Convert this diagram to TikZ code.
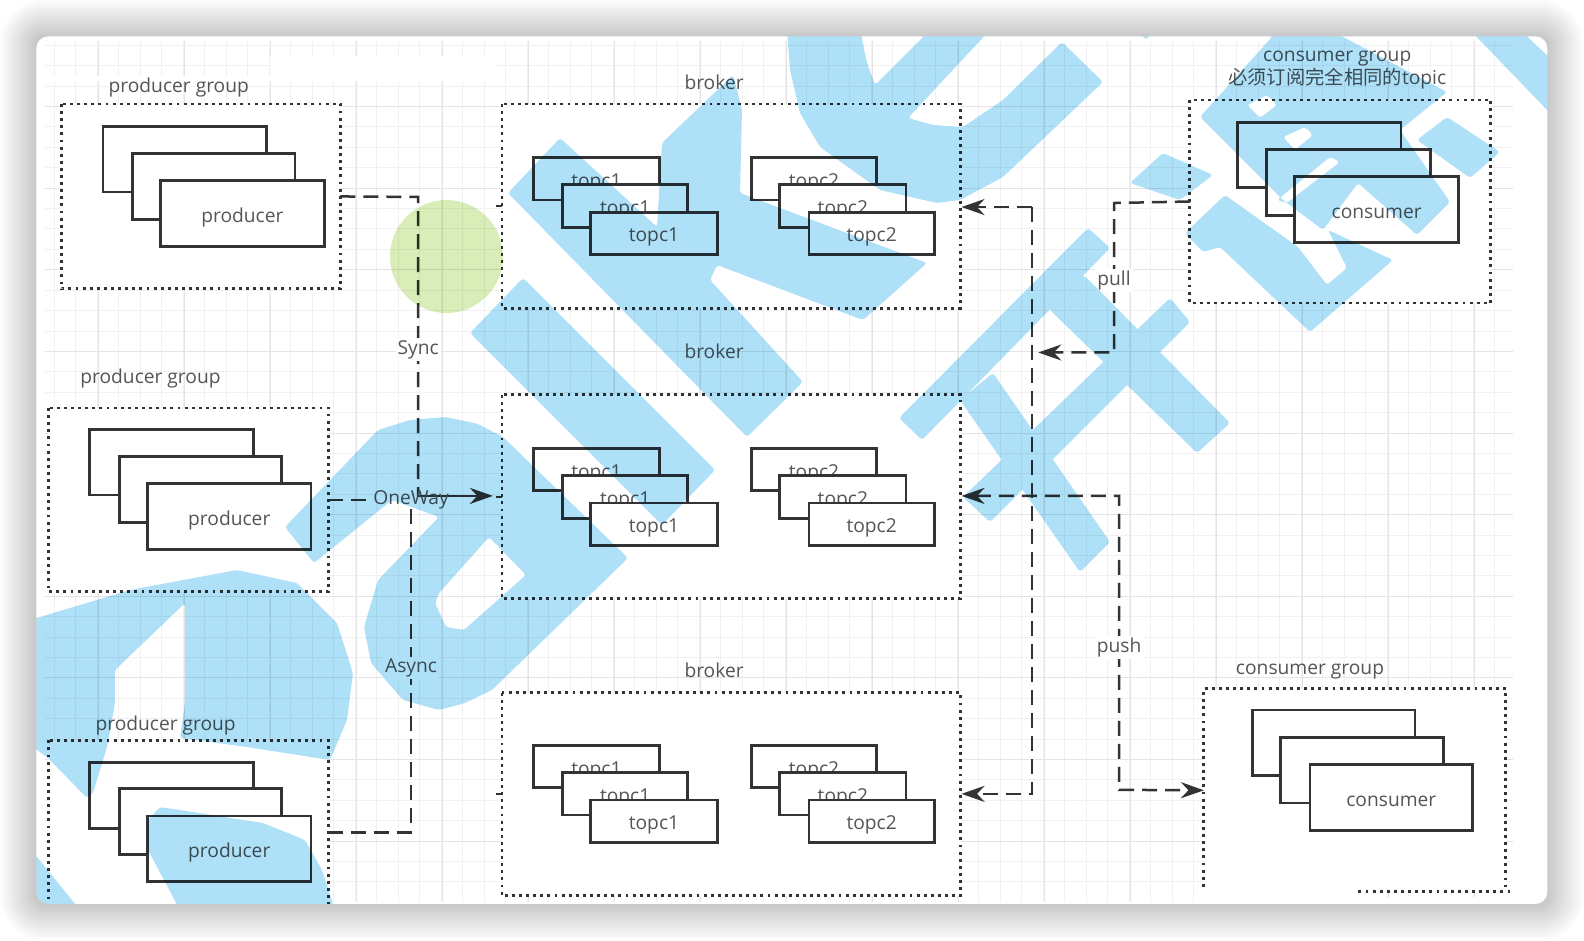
\documentclass[tikz,border=0pt]{standalone}
\usepackage{fontspec}
\setmainfont{Open Sans}
\newfontfamily\cjkfont{Noto Sans CJK SC}
\usetikzlibrary{arrows.meta,calc}
\definecolor{wm}{RGB}{174,224,248}
\definecolor{gr}{RGB}{217,237,184}
\definecolor{ink}{RGB}{51,51,51}
\definecolor{txt}{RGB}{85,85,85}
\definecolor{gminc}{RGB}{241,241,241}
\definecolor{gmajc}{RGB}{228,228,228}
\tikzset{
  lbl/.style={font=\fontsize{9.6}{11}\selectfont,text=txt,inner sep=1pt},
  stackbox/.style={draw=ink,line width=1.4pt,fill=white,anchor=north west,inner sep=0pt,outer sep=0pt,
    font=\fontsize{9.6}{11}\selectfont,text=txt},
  groupbox/.style={fill=white,anchor=north west,inner sep=0pt,outer sep=0pt},
  dotline/.style={draw=ink,line width=1.45pt,dash pattern=on 1.45pt off 2.1pt},
  conn/.style={draw=ink,line width=1.25pt,dash pattern=on 7.5pt off 4pt},
  tip/.style={-{Stealth[length=11.5pt,width=8pt]}},
  both/.style={{Stealth[length=11.5pt,width=8pt]}-{Stealth[length=11.5pt,width=8pt]}},
  gmin/.style={draw=gminc,line width=.5pt},
  gmaj/.style={draw=gmajc,line width=.5pt},
  truepx/.style={x=0.5pt,y=-0.5pt},
}
% name, x1, y1, x2, y2, text
\newcommand\stk[6]{\node[stackbox,minimum width={((#4)-(#2))*0.505pt},minimum height={((#5)-(#3))*0.505pt}] (#1) at (#2,#3) {\raisebox{0pt}[8.6pt][0pt]{#6}};}
\newcommand\gbox[5]{\node[groupbox,minimum width={((#4)-(#2))*0.505pt},minimum height={((#5)-(#3))*0.505pt}] (#1) at (#2,#3) {};}
\newcommand\gridpart[4]{%
  \begin{scope}
  \clip (#1,#2) rectangle (#3,#4);
  \foreach \k in {0,...,72} {\draw[gmin] ({11+21.5*\k},0) -- ({11+21.5*\k},940);}
  \foreach \k in {0,...,46} {\draw[gmin] (0,{25+20.4*\k}) -- (1584,{25+20.4*\k});}
  \foreach \k in {0,...,18} {\draw[gmaj] ({12+86*\k},0) -- ({12+86*\k},940);}
  \foreach \k in {0,...,11} {\draw[gmaj] (0,{25+81.6*\k}) -- (1584,{25+81.6*\k});}
  \end{scope}}
\begin{document}
\begin{tikzpicture}[x=0.505pt,y=-0.505pt]
\useasboundingbox (0,0) rectangle (1568.3,930.7);
\fill[white] (0,0) rectangle (1568.3,930.7);
% soft shadow of the card
\foreach \r in {36,34,...,2} {
  \fill[black,opacity=.0105,rounded corners=\r*0.5pt+4pt] ({36-\r},{36-\r}) rectangle ({1532+\r},{895+\r});
}
\fill[white,rounded corners=6pt] (36,36) rectangle (1532,895);
\begin{scope}
\clip[rounded corners=6pt] (36,36) rectangle (1532,895);
% grid
\begin{scope}[truepx]
\gridpart{495}{42}{1513}{889}
\gridpart{45}{82}{495}{889}
\gridpart{45}{42}{270}{76}
\gridpart{270}{42}{495}{56}
\gridpart{45}{889}{1513}{901}
\end{scope}
% groups
\gbox{pga}{61}{103}{337}{286}
\gbox{pgb}{48}{404}{325}{586}
\gbox{pgc}{48}{733}{325}{915}
\gbox{bra}{497}{103}{951}{305}
\gbox{brb}{497}{391}{951}{593}
\gbox{brc}{497}{686}{951}{887}
\gbox{cga}{1178}{99}{1476}{300}
\gbox{cgb}{1192}{682}{1491}{883}
\foreach \n in {pga,pgb,pgc,bra,brb,brc,cga}
  \draw[dotline] (\n.north west) rectangle (\n.south east);
\fill[white] (1186,878) rectangle (1345,895);
\fill[white] (1345,888) rectangle (1500,895);
\coordinate (cgbl) at (1192,878);
\coordinate (cgbr) at (1491,878);
\coordinate (cgbs) at (1345,883);
\coordinate (cgbe) at (1498,883);
\draw[dotline] (cgbl) -- (cgb.north west) -- (cgb.north east) -- (cgbr);
\draw[dotline] (cgbs) -- (cgbe);
% group labels
\node[lbl] (lpga) at (177,87) {producer group};
\node[lbl] (lpgb) at (149,375) {producer group};
\node[lbl] (lpgc) at (164,718) {producer group};
\node[lbl] (lbra) at (707,81) {broker};
\node[lbl] (lbrb) at (707,348) {broker};
\node[lbl] (lbrc) at (707,664) {broker};
\node[lbl,align=center,inner sep=0pt] (lcga) at (1324,69.5) {consumer group\\[0.8pt]{\cjkfont\fontsize{9.65}{11}\selectfont 必须订阅完全相同的}topic};
\node[lbl] (lcgb) at (1297,665) {consumer group};
% producer stacks
\stk{pa1}{102}{125}{264}{190}{}
\stk{pa2}{131}{152}{292}{217}{}
\stk{pa3}{159}{179}{321}{244}{producer}
\stk{pb1}{89}{425}{251}{490}{}
\stk{pb2}{118}{452}{279}{517}{}
\stk{pb3}{146}{479}{308}{544}{producer}
\stk{pc1}{89}{755}{251}{820}{}
\stk{pc2}{118}{781}{279}{846}{}
\stk{pc3}{146}{808}{308}{873}{producer}
% broker stacks
\foreach \nm/\dy in {a/0,b/288,c/582} {
  \stk{t\nm1}{528}{156+\dy}{653}{198+\dy}{topc1}
  \stk{t\nm2}{557}{183+\dy}{681}{225+\dy}{topc1}
  \stk{t\nm3}{585}{210+\dy}{710}{252+\dy}{topc1}
  \stk{u\nm1}{744}{156+\dy}{868}{198+\dy}{topc2}
  \stk{u\nm2}{772}{183+\dy}{897}{225+\dy}{topc2}
  \stk{u\nm3}{801}{210+\dy}{925}{252+\dy}{topc2}
}
% consumer stacks
\stk{ca1}{1225}{121}{1387}{186}{}
\stk{ca2}{1254}{148}{1416}{213}{}
\stk{ca3}{1282}{175}{1444}{240}{consumer}
\stk{cb1}{1240}{703}{1401}{768}{}
\stk{cb2}{1268}{730}{1429}{795}{}
\stk{cb3}{1297}{757}{1458}{822}{consumer}
% connectors
\coordinate (sbend) at (414,195);
\coordinate (smerge) at (414,491);
\coordinate (inb) at (488,491);
\coordinate (abend) at (407,824);
\coordinate (amerge) at (407,497);
\coordinate (ina) at (952,205);
\coordinate (vtop) at (1022,205);
\coordinate (vbot) at (1022,786);
\coordinate (inc) at (952,786);
\coordinate (pbend) at (1103,201);
\coordinate (pmid) at (1103,349);
\coordinate (pend) at (1028,349);
\coordinate (qbend) at (1108,491);
\coordinate (qlow) at (1108,782);
\coordinate (inbb) at (952,491);
\draw[conn] (pga.east) -- (sbend) -- node[lbl,fill=white,pos=.5,yshift=-1.5pt] (sync) {Sync} (smerge);
\draw[ink,line width=1.25pt,tip] (smerge) -- (inb);
\node[lbl] (oneway) at (407,495) {OneWay};
\draw[conn] (pgb.east) -- (oneway.west);
\draw[conn] (pgc.east) -- (abend) -- node[lbl,fill=white,pos=.5,yshift=-.5pt] (async) {Async} (amerge);
\draw[conn,tip] (vtop) -- (ina);
\draw[conn,tip] (vtop) -- (vbot) -- (inc);
\draw[conn,tip] (cga.west) -- (pbend) -- node[lbl,fill=white,pos=.5,yshift=-1.5pt] (pull) {pull} (pmid) -- (pend);
\draw[conn,both] (inbb) -- (qbend) -- node[lbl,fill=white,pos=.5,yshift=-2.2pt] (push) {push} (qlow) -- (cgb.west);
\foreach \n in {bra,brb,brc} \draw[ink,line width=1pt] ($(\n.west)+(-6,0)$) -- (\n.west);
% watermark, laid over everything
\begin{scope}[truepx,blend mode=multiply,wmf/.style={fill=wm,rounded corners=1.5pt}]
\fill[gr] (446.5,256.5) circle (28.25pt);
\fill[wmf] (787,30)--(790,70)--(800,113)--(820,147)--(880,190)--(937,203)--(960,200)--(1003,177)--(1103,82)--(1062,42)--(1003,100)--(963,127)--(933,125)--(908,118)--(990,30)--(930,30)--(875,85)--(867,63)--(860,30)--cycle;
\fill[wmf] (560,138)--(657,227)--(662,143)--(733,75)--(742,110)--(740,193)--(927,263)--(863,320)--(717,265)--(710,280)--(803,382)--(747,437)--(508,193)--cycle;
\fill[wmf] (523,278)--(715,470)--(662,525)--(470,333)--cycle;
\fill[wmf,even odd rule] (285,527)--(378,430)--(410,420)--(446,417)--(478,424)--(503,437)--(628,558)--(492,690)--(465,703)--(439,710)--(403,700)--(371,663)--(364,627)--(378,580)--(439,517)--(392,500)--(314,563)--cycle
  (489,537)--(526,575)--(464,630)--(446,627)--(435,603)--(439,593)--cycle;
\fill[wmf] (30,620)--(130,590)--(237,570)--(297,583)--(337,623)--(353,673)--(347,720)--(330,760)--(247,747)--(180,738)--(185,703)--(185,603)--(115,670)--(115,703)--(107,747)--(93,793)--(87,798)--(47,757)--(30,745)--cycle;
\fill[wmf] (160,807)--(263,823)--(305,840)--(322,870)--(335,910)--(180,910)--(148,850)--(148,820)--cycle;
\fill[wmf] (30,850)--(37,857)--(80,910)--(30,910)--cycle;
% first character of the right group: one path, so that crossings are not darker
\fill[wmf] (1088,228)--(1110,248)--(922,440)--(899,418)--cycle
  (1060,265)--(1087,278)--(1230,423)--(1197,453)--(1052,312)--(1040,290)--cycle
  (1170,298)--(1190,322)--(990,522)--(963,497)--cycle
  (993,373)--(1110,542)--(1080,572)--(960,400)--cycle;
% second character
\fill[wmf] (1130,183)--(1163,153)--(1213,175)--(1180,200)--cycle;
\fill[wmf] (1417,140)--(1447,117)--(1500,152)--(1470,178)--cycle;
\fill[wmf] (1470,30)--(1520,30)--(1550,58)--(1550,113)--cycle;
\fill[wmf] (1137,30)--(1155,30)--(1146,40)--cycle;
\fill[wmf,even odd rule] (1200,117)--(1272,37)--(1272,30)--(1330,30)--(1447,92)--(1400,130)--(1450,202)--(1417,235)--(1358,183)--(1323,230)--(1283,200)--cycle
  (1247,105)--(1267,95)--(1277,105)--(1260,118)--cycle
  (1283,137)--(1305,127)--(1313,135)--(1295,150)--cycle
  (1340,162)--(1330,157)--(1277,200)--(1287,203)--cycle;
\fill[wmf] (1328,230)--(1393,260)--(1310,332)--(1220,247)--(1203,252)--(1185,233)--(1225,195)--(1298,247)--(1327,285)--(1347,268)--cycle;
\end{scope}
\end{scope}
\end{tikzpicture}
\end{document}
